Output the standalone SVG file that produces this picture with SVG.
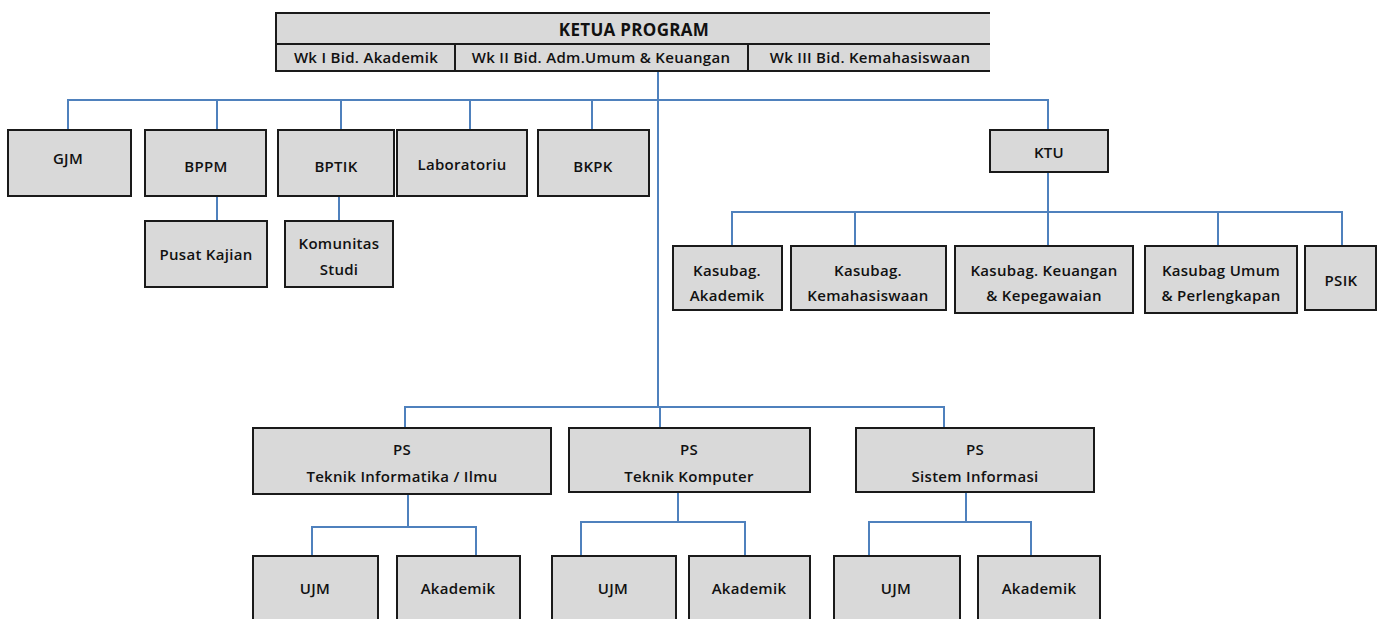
<svg xmlns="http://www.w3.org/2000/svg" width="1384" height="619" viewBox="0 0 1384 619">
<style>
.box{fill:#d9d9d9;stroke:#1a1a1a;stroke-width:2}
.t{font-family:"Open Sans","Liberation Sans",sans-serif;font-size:15px;letter-spacing:0.3px;font-weight:600;fill:#111111;text-anchor:middle;dominant-baseline:central}
.c{fill:none;stroke:#4f81bd;stroke-width:2}
</style>
<rect width="1384" height="619" fill="#ffffff"/>
<g id="connectors">
<path class="c" d="M658 71V407"/>
<path class="c" d="M68 130V100H1048V130"/>
<path class="c" d="M217 100V130M341 100V130M470 100V130M592 100V130"/>
<path class="c" d="M217 196V221M339 196V221"/>
<path class="c" d="M1048 172V246M732 246V212H1342V246M855 212V246M1218 212V246"/>
<path class="c" d="M405 428V407H944V428M660 407V428"/>
<path class="c" d="M408 494V527M312 556V527H476V556"/>
<path class="c" d="M678 492V522M581 556V522H745V556"/>
<path class="c" d="M966 492V522M869 556V522H1031V556"/>
</g>
<g id="ketua">
<path class="box" d="M990 13H276V71H990"/>
<path class="box" d="M276 44H990M455 44V71M748 44V71" fill="none"/>
<text class="t" x="634" y="29" style="font-size:17px;font-weight:700">KETUA PROGRAM</text>
<text class="t" x="366" y="57">Wk I Bid. Akademik</text>
<text class="t" x="601" y="57">Wk II Bid. Adm.Umum &amp; Keuangan</text>
<text class="t" x="870" y="57">Wk III Bid. Kemahasiswaan</text>
</g>
<g id="gjm"><rect class="box" x="8" y="130" width="123" height="66"/><text class="t" x="68" y="158">GJM</text></g>
<g id="bppm"><rect class="box" x="145" y="130" width="121" height="66"/><text class="t" x="206" y="166">BPPM</text></g>
<g id="pusat"><rect class="box" x="145" y="221" width="122" height="66"/><text class="t" x="206" y="254">Pusat Kajian</text></g>
<g id="bptik"><rect class="box" x="278" y="130" width="116" height="66"/><text class="t" x="336" y="166">BPTIK</text></g>
<g id="komunitas"><rect class="box" x="285" y="221" width="108" height="66"/><text class="t" x="339" y="243">Komunitas</text><text class="t" x="339" y="269">Studi</text></g>
<g id="lab"><rect class="box" x="397" y="130" width="130" height="66"/><text class="t" x="462" y="164">Laboratoriu</text></g>
<g id="bkpk"><rect class="box" x="538" y="130" width="111" height="66"/><text class="t" x="593" y="166">BKPK</text></g>
<g id="ktu"><rect class="box" x="990" y="130" width="118" height="42"/><text class="t" x="1049" y="152">KTU</text></g>
<g id="kakad"><rect class="box" x="673" y="246" width="109" height="64"/><text class="t" x="727" y="270">Kasubag.</text><text class="t" x="727" y="295">Akademik</text></g>
<g id="kkema"><rect class="box" x="791" y="246" width="155" height="64"/><text class="t" x="868" y="270">Kasubag.</text><text class="t" x="868" y="295">Kemahasiswaan</text></g>
<g id="kkeu"><rect class="box" x="955" y="246" width="178" height="67"/><text class="t" x="1044" y="270">Kasubag. Keuangan</text><text class="t" x="1044" y="295">&amp; Kepegawaian</text></g>
<g id="kumum"><rect class="box" x="1145" y="246" width="152" height="67"/><text class="t" x="1221" y="270">Kasubag Umum</text><text class="t" x="1221" y="295">&amp; Perlengkapan</text></g>
<g id="psik"><rect class="box" x="1305" y="246" width="71" height="64"/><text class="t" x="1341" y="280">PSIK</text></g>
<g id="psti"><rect class="box" x="253" y="428" width="298" height="66"/><text class="t" x="402" y="449">PS</text><text class="t" x="402" y="476">Teknik Informatika / Ilmu</text></g>
<g id="pstk"><rect class="box" x="569" y="428" width="241" height="64"/><text class="t" x="689" y="449">PS</text><text class="t" x="689" y="476">Teknik Komputer</text></g>
<g id="pssi"><rect class="box" x="856" y="428" width="238" height="64"/><text class="t" x="975" y="449">PS</text><text class="t" x="975" y="476">Sistem Informasi</text></g>
<g id="ujm1"><rect class="box" x="253" y="556" width="125" height="80"/><text class="t" x="315" y="588">UJM</text></g>
<g id="akd1"><rect class="box" x="397" y="556" width="123" height="80"/><text class="t" x="458" y="588">Akademik</text></g>
<g id="ujm2"><rect class="box" x="552" y="556" width="124" height="80"/><text class="t" x="613" y="588">UJM</text></g>
<g id="akd2"><rect class="box" x="689" y="556" width="121" height="80"/><text class="t" x="749" y="588">Akademik</text></g>
<g id="ujm3"><rect class="box" x="834" y="556" width="126" height="80"/><text class="t" x="896" y="588">UJM</text></g>
<g id="akd3"><rect class="box" x="978" y="556" width="122" height="80"/><text class="t" x="1039" y="588">Akademik</text></g>
</svg>
